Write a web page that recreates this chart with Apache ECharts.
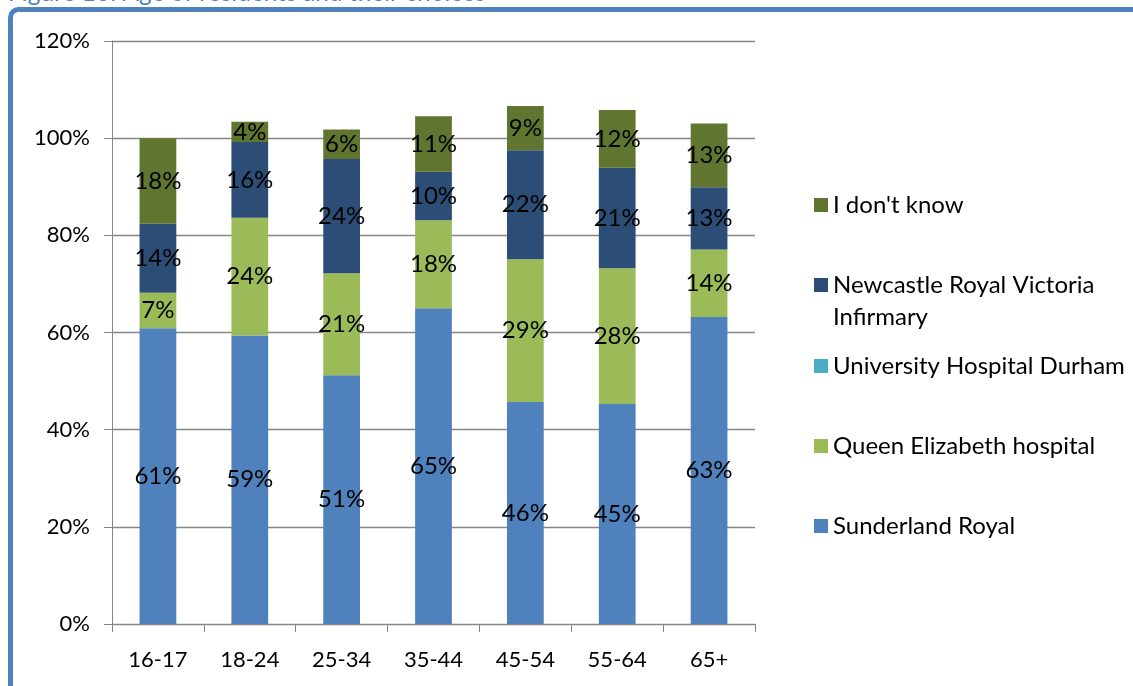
<!DOCTYPE html>
<html>
<head>
<meta charset="utf-8">
<script src="https://cdn.jsdelivr.net/npm/echarts@6/dist/echarts.min.js"></script>
<style>
html,body{margin:0;padding:0;background:#fff;}
#c{width:1133px;height:686px;}
</style>
</head>
<body>
<div id="c"></div>
<script>
var categories = ['16-17', '18-24', '25-34', '35-44', '45-54', '55-64', '65+'];
var sunderland = [60.9, 59.4, 51.2, 65.0, 45.7, 45.3, 63.2];
var queenElizabeth = [7.3, 24.2, 21.0, 18.1, 29.4, 27.9, 13.9];
var durham = [0, 0, 0, 0, 0, 0, 0];
var newcastle = [14.2, 15.6, 23.5, 10.0, 22.4, 20.7, 12.8];
var dontKnow = [17.6, 4.2, 6.1, 11.4, 9.1, 11.9, 13.1];
var yTicks = [0, 20, 40, 60, 80, 100, 120];

var FONT = 'Lato';
var chart = echarts.init(document.getElementById('c'), null, {renderer: 'canvas'});

function mkSeries(name, data, color) {
  return {
    name: name, type: 'bar', stack: 'total', data: data, barWidth: '40%',
    itemStyle: {color: color},
    label: {
      show: true, position: 'inside', color: '#000', fontFamily: FONT, fontSize: 24,
      formatter: function (p) { return p.value > 0 ? Math.round(p.value) + '%' : ''; }
    }
  };
}

function legendAt(name, top, extra) {
  var l = {
    data: [name], orient: 'vertical', left: 809, top: top,
    icon: 'rect', itemWidth: 14, itemHeight: 14,
    textStyle: {fontFamily: FONT, fontSize: 24, color: '#000'}
  };
  if (extra) { for (var k in extra) l[k] = extra[k]; }
  return l;
}

chart.setOption({
  animation: false,
  title: {
    text: 'Figure 10: Age of residents and their choices',
    left: 3, top: -24,
    textStyle: {fontFamily: FONT, fontSize: 24.5, fontWeight: 'normal', color: '#4F81BD'}
  },
  graphic: [{
    type: 'rect', left: 8, top: 7,
    shape: {x: 0, y: 0, width: 1200, height: 760, r: 8},
    style: {fill: 'none', stroke: '#4F81BD', lineWidth: 5}
  }],
  legend: [
    legendAt("I don't know", 188),
    legendAt('Newcastle Royal Victoria Infirmary', 264, {
      formatter: function () { return '{a|Newcastle Royal Victoria}\n{b|Infirmary}'; },
      textStyle: {
        fontFamily: FONT, fontSize: 24, color: '#000',
        rich: {
          a: {fontFamily: FONT, fontSize: 24, color: '#000', lineHeight: 64, height: 32, verticalAlign: 'bottom'},
          b: {fontFamily: FONT, fontSize: 24, color: '#000', lineHeight: 32, height: 32}
        }
      }
    }),
    legendAt('University Hospital Durham', 349),
    legendAt('Queen Elizabeth hospital', 429),
    legendAt('Sunderland Royal', 509)
  ],
  grid: {left: 112, right: 378, top: 41, bottom: 62},
  xAxis: {
    type: 'category', data: categories,
    axisLine: {lineStyle: {color: '#868686', width: 1}},
    axisTick: {show: true, length: 8, lineStyle: {color: '#868686'}},
    axisLabel: {fontFamily: FONT, fontSize: 22, color: '#000', margin: 25}
  },
  yAxis: {
    type: 'value', min: 0, max: 120, interval: 20,
    axisLine: {show: true, lineStyle: {color: '#868686'}},
    axisTick: {show: true, length: 8, lineStyle: {color: '#868686'}},
    splitLine: {lineStyle: {color: '#868686', width: 1.3}},
    axisLabel: {fontFamily: FONT, fontSize: 22, color: '#000', margin: 22, formatter: '{value}%'}
  },
  series: [
    mkSeries('Sunderland Royal', sunderland, '#4F81BD'),
    mkSeries('Queen Elizabeth hospital', queenElizabeth, '#9BBB59'),
    mkSeries('University Hospital Durham', durham, '#4BACC6'),
    mkSeries('Newcastle Royal Victoria Infirmary', newcastle, '#2C4D75'),
    mkSeries("I don't know", dontKnow, '#5F7530')
  ]
});
</script>
</body>
</html>
